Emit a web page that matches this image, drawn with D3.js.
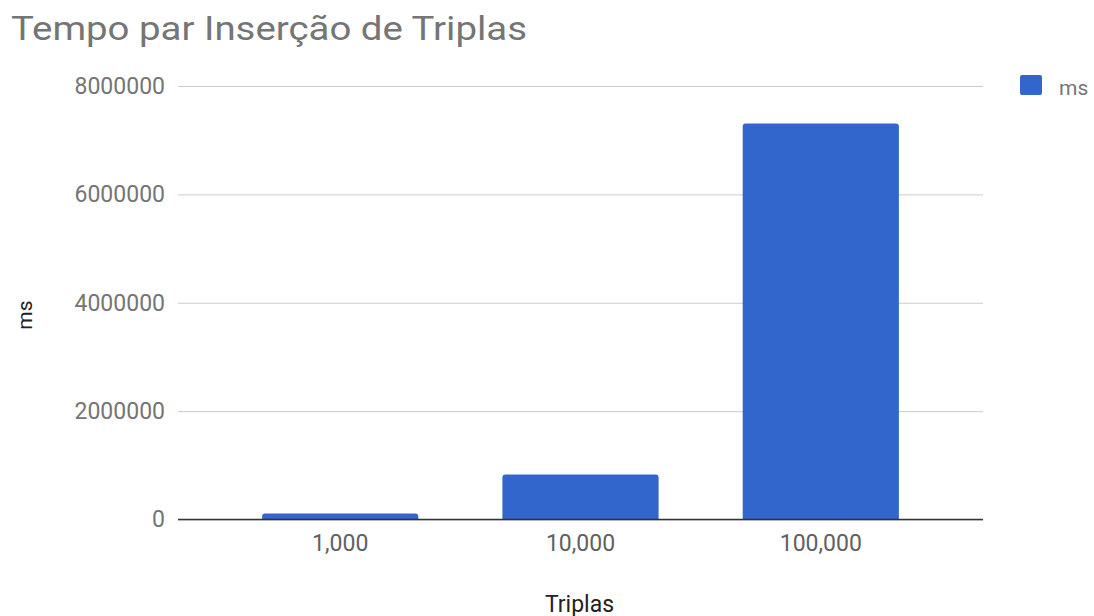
<!DOCTYPE html>
<html>
<head>
<meta charset="utf-8">
<script src="https://cdn.jsdelivr.net/npm/d3@7"></script>
<style>
  html, body { margin: 0; padding: 0; background: #fff; }
  svg { display: block; font-family: Roboto, "Noto Sans", Arial, sans-serif; }
</style>
</head>
<body>
<svg id="chart" width="1094" height="616"></svg>
<script>
// Insertion time (ms) by number of triples
const categories = ["1,000", "10,000", "100,000"];
const msValues = [110000, 830000, 7310000];
const yTicks = [0, 2000000, 4000000, 6000000, 8000000];
const titleText = "Tempo par Inserção de Triplas";
const xTitle = "Triplas";
const yTitle = "ms";
const seriesName = "ms";

const svg = d3.select("#chart");
const plot = { left: 178, right: 983, top: 86, bottom: 519.5 };

const x = d3.scaleBand()
  .domain(categories)
  .range([plot.left, plot.right])
  .paddingInner(0.35)
  .paddingOuter(0.35);

const y = d3.scaleLinear()
  .domain([0, 8000000])
  .range([plot.bottom, plot.top]);

// Title
svg.append("text")
  .attr("x", 11)
  .attr("y", 39.5)
  .attr("font-size", 34)
  .attr("fill", "#757575")
  .attr("textLength", 516)
  .attr("lengthAdjust", "spacingAndGlyphs")
  .text(titleText);

// Gridlines and y tick labels
const yAxis = d3.axisLeft(y)
  .tickValues(yTicks)
  .tickSize(-(plot.right - plot.left))
  .tickPadding(13)
  .tickFormat(d3.format("d"));

const gy = svg.append("g")
  .attr("transform", `translate(${plot.left},0)`)
  .call(yAxis);
gy.select(".domain").remove();
gy.selectAll(".tick line")
  .attr("stroke", "#cccccc")
  .attr("stroke-width", 1);
gy.selectAll(".tick text")
  .attr("font-size", 23)
  .attr("fill", "#757575")
  .attr("font-family", "Roboto, sans-serif");

// Bars with slightly rounded corners
const r = 3;
svg.append("g")
  .selectAll("path")
  .data(msValues)
  .join("path")
  .attr("fill", "#3366cc")
  .attr("d", (d, i) => {
    const x0 = x(categories[i]);
    const w = x.bandwidth();
    const y0 = y(d);
    const h = y(0) - y0;
    const rr = Math.min(r, h / 2);
    return `M${x0},${y0 + h} V${y0 + rr} Q${x0},${y0} ${x0 + rr},${y0} H${x0 + w - rr} Q${x0 + w},${y0} ${x0 + w},${y0 + rr} V${y0 + h} Z`;
  });

// Baseline
svg.append("line")
  .attr("x1", plot.left).attr("x2", plot.right)
  .attr("y1", y(0)).attr("y2", y(0))
  .attr("stroke", "#333333")
  .attr("stroke-width", 1.3);

// X axis labels
const xAxis = d3.axisBottom(x).tickSize(0).tickPadding(15.5);
const gx = svg.append("g")
  .attr("transform", `translate(0,${y(0)})`)
  .call(xAxis);
gx.select(".domain").remove();
gx.selectAll(".tick text")
  .attr("font-size", 23)
  .attr("fill", "#616161")
  .attr("font-family", "Roboto, sans-serif");

// Axis titles
svg.append("text")
  .attr("x", (plot.left + plot.right) / 2 - 1)
  .attr("y", 611.5)
  .attr("text-anchor", "middle")
  .attr("font-size", 23)
  .attr("fill", "#222222")
  .text(xTitle);

svg.append("text")
  .attr("transform", "translate(32,315) rotate(-90)")
  .attr("text-anchor", "middle")
  .attr("font-size", 21)
  .attr("fill", "#222222")
  .text(yTitle);

// Legend
const lg = svg.append("g").attr("transform", "translate(1020,75)");
lg.append("rect")
  .attr("width", 22).attr("height", 20)
  .attr("rx", 2)
  .attr("fill", "#3366cc");
lg.append("text")
  .attr("x", 39).attr("y", 20)
  .attr("font-size", 21)
  .attr("fill", "#757575")
  .text(seriesName);
</script>
</body>
</html>
